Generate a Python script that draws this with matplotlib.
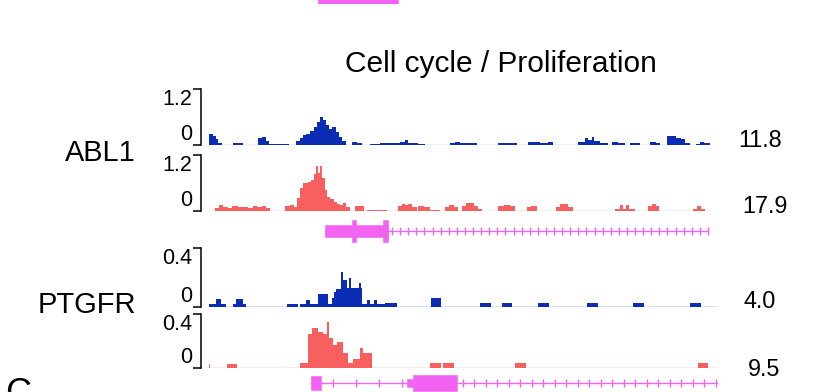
import numpy as np
import matplotlib
matplotlib.use("Agg")
import matplotlib.pyplot as plt

plt.rcParams['font.family'] = ['Liberation Sans', 'DejaVu Sans']

# # # # # # # # # # # # # # # # # # # # # # # # # # # # # # # # # # # # # # #
# signal tracks: (start, end, value), positions on the browser window

view = (209, 718)

abl1_blue = [
    (209, 213, 0.23), (213, 216, 0.2), (216, 218, 0.12), (218, 222, 0.04),
    (233, 243, 0.04), (258, 262, 0.15), (262, 266, 0.17), (266, 269, 0.08),
    (269, 289, 0.03), (296, 300, 0.08), (300, 303, 0.15), (303, 306, 0.22),
    (306, 310, 0.24), (310, 314, 0.3), (314, 317, 0.38), (317, 320, 0.5),
    (320, 323, 0.59), (323, 326, 0.53), (326, 329, 0.42), (329, 332, 0.35),
    (332, 336, 0.38), (336, 339, 0.28), (339, 342, 0.18), (342, 346, 0.08),
    (352, 357, 0.07), (357, 362, 0.04), (370, 380, 0.03), (380, 390, 0.05),
    (390, 400, 0.04), (400, 405, 0.06), (405, 408, 0.1), (408, 418, 0.05),
    (418, 425, 0.03), (450, 455, 0.04), (455, 460, 0.07), (460, 468, 0.04),
    (468, 477, 0.05), (498, 510, 0.05), (510, 517, 0.04), (528, 540, 0.07),
    (540, 548, 0.04), (548, 553, 0.06), (578, 585, 0.06), (585, 588, 0.14),
    (588, 592, 0.1), (592, 594, 0.18), (594, 600, 0.09), (600, 608, 0.05),
    (612, 618, 0.07), (618, 625, 0.04), (630, 640, 0.05), (650, 656, 0.07),
    (656, 660, 0.05), (667, 676, 0.2), (676, 681, 0.15), (681, 685, 0.12),
    (685, 690, 0.05), (696, 700, 0.03), (700, 704, 0.07), (704, 710, 0.04),
]

abl1_red = [
    (215, 219, 0.07), (219, 223, 0.12), (223, 228, 0.09), (228, 232, 0.06),
    (232, 238, 0.1), (238, 243, 0.08), (243, 248, 0.09), (248, 253, 0.07),
    (253, 257, 0.1), (257, 262, 0.08), (262, 266, 0.11), (266, 270, 0.06),
    (285, 290, 0.1), (290, 294, 0.13), (294, 297, 0.09), (297, 300, 0.27),
    (300, 303, 0.5), (303, 308, 0.59), (308, 311, 0.62), (311, 314, 0.66),
    (314, 316, 0.8), (316, 318, 0.96), (318, 320, 0.82), (320, 322, 0.96),
    (322, 325, 0.7), (325, 327, 0.45), (327, 330, 0.3), (330, 334, 0.25),
    (334, 337, 0.2), (337, 340, 0.15), (340, 343, 0.13), (343, 346, 0.17),
    (346, 350, 0.08), (355, 364, 0.1), (367, 387, 0.03), (398, 402, 0.1),
    (402, 405, 0.16), (405, 408, 0.12), (408, 412, 0.14), (412, 417, 0.08),
    (418, 424, 0.11), (424, 430, 0.08), (430, 440, 0.03), (445, 449, 0.08),
    (449, 454, 0.13), (454, 458, 0.08), (462, 466, 0.1), (466, 470, 0.18),
    (470, 474, 0.17), (474, 478, 0.1), (478, 482, 0.05), (498, 504, 0.1),
    (504, 510, 0.13), (510, 515, 0.1), (527, 531, 0.08), (531, 537, 0.1),
    (556, 560, 0.08), (560, 568, 0.14), (568, 573, 0.08), (615, 620, 0.05),
    (620, 623, 0.12), (623, 626, 0.05), (626, 629, 0.12), (629, 635, 0.04),
    (648, 652, 0.1), (652, 656, 0.15), (656, 659, 0.1), (693, 697, 0.05),
    (697, 701, 0.1), (701, 705, 0.05),
]

ptgfr_blue = [
    (209, 216, 0.02), (216, 221, 0.055), (221, 226, 0.02), (233, 236, 0.02),
    (236, 243, 0.055), (243, 246, 0.02), (287, 298, 0.02), (300, 306, 0.02),
    (306, 310, 0.05), (310, 318, 0.02), (318, 328, 0.09), (328, 332, 0.02),
    (332, 334, 0.06), (334, 336, 0.1), (336, 341, 0.125), (341, 343, 0.235),
    (343, 347, 0.185), (347, 349, 0.13), (349, 351, 0.2), (351, 359, 0.13),
    (359, 361, 0.16), (361, 362, 0.13), (362, 367, 0.02), (367, 370, 0.05),
    (370, 374, 0.02), (374, 377, 0.05), (377, 385, 0.02), (385, 397, 0.025),
    (431, 441, 0.06), (480, 491, 0.03), (502, 512, 0.03), (538, 549, 0.03),
    (587, 598, 0.03), (633, 644, 0.03), (690, 701, 0.03),
]

ptgfr_red = [
    (209, 210, 0.03), (227, 237, 0.032), (300, 308, 0.035), (308, 312, 0.25),
    (312, 318, 0.3), (318, 323, 0.27), (323, 327, 0.25), (327, 329, 0.34),
    (329, 333, 0.22), (333, 337, 0.17), (337, 343, 0.19), (343, 348, 0.11),
    (348, 353, 0.035), (353, 360, 0.07), (360, 363, 0.15), (363, 372, 0.11),
    (430, 441, 0.035), (443, 454, 0.035), (515, 526, 0.035), (698, 708, 0.035),
]

track_max = [1.2, 1.2, 0.4, 0.4]
track_max_labels = ['1.2', '1.2', '0.4', '0.4']
track_totals = ['11.8', '17.9', '4.0', '9.5']
track_ends = [711, 711, 718, 718]
gene_names = ['ABL1', 'PTGFR']

# genes: exons (start, end, half height), span, intron tick step
abl1_exons = [(325, 388, 0.45), (352, 356, 0.85), (383, 388, 0.85)]
abl1_span = (325, 708)
abl1_introns = [(388, 708, 8.1)]

ptgfr_exons = [(311, 321, 0.55), (407, 413, 0.3), (413, 457, 0.62)]
ptgfr_span = (311, 718)
ptgfr_introns = [(321, 407, 23), (457, 718, 11.5)]

prev_exons = [(318, 398, 1.0)]

title = 'Cell cycle / Proliferation'

# # # # # # # # # # # # # # # # # # # # # # # # # # # # # # # # # # # # # # #

blue = '#0b2db6'
red = '#f85f5f'
pink = '#f263f2'

W, H = 821, 392
fig = plt.figure(figsize=(W / 100, H / 100), dpi=100)

def px_axes(left, top, right, bottom):
    return fig.add_axes([left / W, 1 - bottom / H, (right - left) / W, (bottom - top) / H])

def to_stairs(segs):
    # segments -> contiguous edges/values, gaps filled with 0
    edges, vals = [segs[0][0]], []
    for s, e, v in segs:
        if s != edges[-1]:
            vals.append(0.0)
            edges.append(s)
        vals.append(v)
        edges.append(e)
    return np.array(vals), np.array(edges, float)

def draw_track(ax, segs, color, base_color, ymax, ylab, end):
    vals, edges = to_stairs(segs)
    ax.stairs(vals, edges, fill=True, color=color, linewidth=0)
    ax.plot([view[0], end], [0, 0], color=base_color, lw=1.0, zorder=0)
    ax.set_xlim(view)
    ax.set_ylim(0, ymax)
    for sp in ['top', 'right', 'bottom']:
        ax.spines[sp].set_visible(False)
    ax.spines['left'].set_position(('outward', 5.8))
    ax.spines['left'].set_bounds(0, ymax)
    ax.spines['left'].set_linewidth(1.1)
    ax.set_xticks([])
    ax.set_yticks([0, ymax])
    ax.set_yticklabels(['0', ylab])
    ax.tick_params(axis='y', length=5.8, width=1.1, pad=0.5, labelsize=15.5)
    tl = ax.get_yticklabels()
    tl[0].set_verticalalignment('bottom')
    tl[1].set_verticalalignment('top')
    ax.patch.set_alpha(0)

def draw_gene(ax, exons, span, introns):
    ax.plot(span, [0, 0], color=pink, lw=1.0)
    for s, e, step in introns:
        xs = np.arange(s + step / 2, e, step)
        ax.plot(xs, np.zeros_like(xs), ls='none', marker='|', ms=5.5,
                mew=1.0, color=pink)
    for s, e, h in exons:
        ax.bar(s, 2 * h, width=e - s, bottom=-h, align='edge',
               color=pink, edgecolor=pink, linewidth=0.4)
    ax.set_xlim(view)
    ax.set_ylim(-1, 1)
    ax.axis('off')

# previous panel leftover (cut at top)
ax0 = px_axes(209, -10, 718, 4)
draw_gene(ax0, prev_exons, (318, 398), [])

rows = [(89, 145), (155, 211), (248, 307), (314, 368)]
series = [abl1_blue, abl1_red, ptgfr_blue, ptgfr_red]
colors = [blue, red, blue, red]
bases = ['#b4b4c0', '#c8a8a8', '#4a64c0', '#f09090']
total_x = [760.5, 765, 760, 764.5]
total_y = [146.5, 213, 308, 376.5]

for i in range(4):
    top, bot = rows[i]
    ax = px_axes(209, top, 718, bot)
    draw_track(ax, series[i], colors[i], bases[i], track_max[i],
               track_max_labels[i], track_ends[i])
    fig.text(total_x[i] / W, 1 - total_y[i] / H, track_totals[i],
             ha='center', va='baseline', fontsize=16.8)

axg1 = px_axes(209, 218, 718, 244)
draw_gene(axg1, abl1_exons, abl1_span, abl1_introns)
axg2 = px_axes(209, 370, 718, 396)
draw_gene(axg2, ptgfr_exons, ptgfr_span, ptgfr_introns)

fig.text(501 / W, 1 - 72 / H, title, ha='center', va='baseline', fontsize=21.5)
fig.text(100 / W, 1 - 161 / H, gene_names[0], ha='center', va='baseline', fontsize=20.8)
fig.text(87 / W, 1 - 313 / H, gene_names[1], ha='center', va='baseline', fontsize=21)
fig.text(5 / W, 1 - 377 / H, 'C', ha='left', va='top', fontsize=26)

fig.savefig('out.png', dpi=100)
